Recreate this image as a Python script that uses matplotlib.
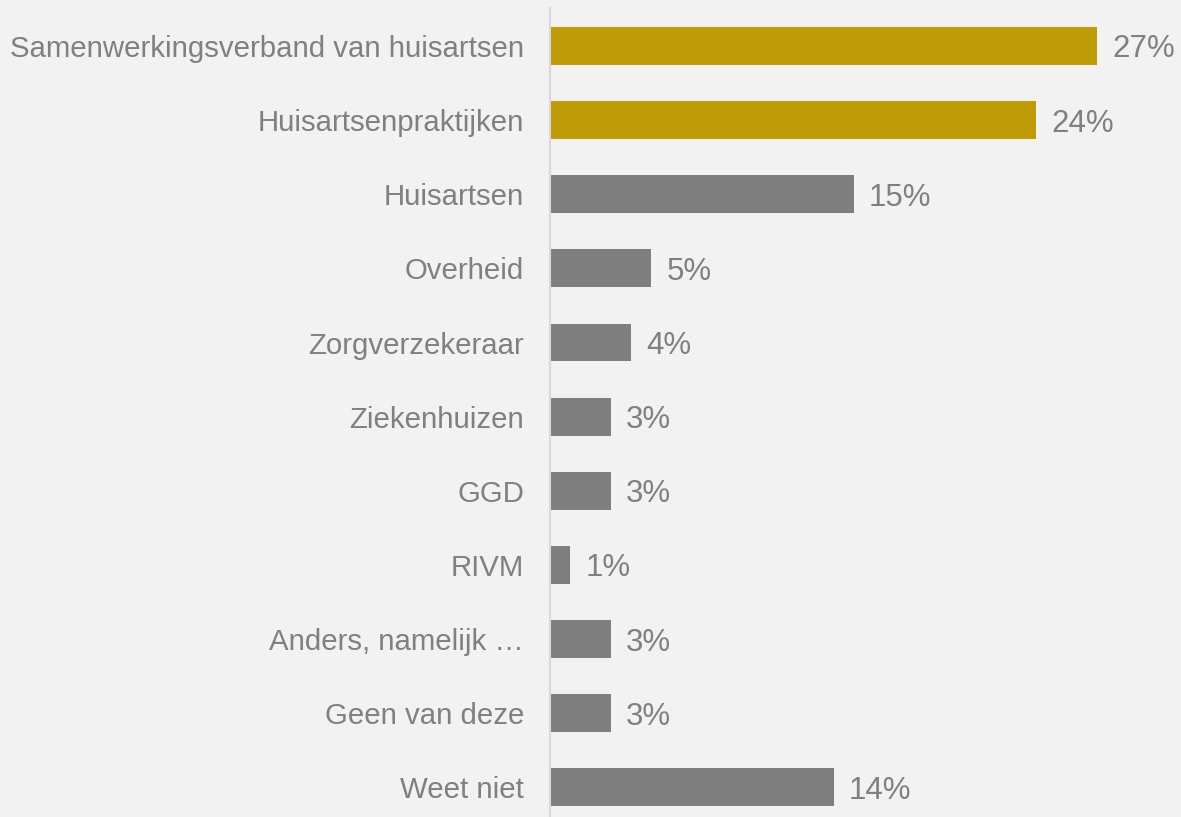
import matplotlib.pyplot as plt

categorieen = ['Samenwerkingsverband van huisartsen', 'Huisartsenpraktijken', 'Huisartsen',
               'Overheid', 'Zorgverzekeraar', 'Ziekenhuizen', 'GGD', 'RIVM',
               'Anders, namelijk \u2026', 'Geen van deze', 'Weet niet']
percentages = [27, 24, 15, 5, 4, 3, 3, 1, 3, 3, 14]
uitgelicht = [True, True, False, False, False, False, False, False, False, False, False]

achtergrond = '#f2f2f2'
goud = '#bf9b07'
grijs = '#7f7f7f'
tekst = '#808080'

plt.rcParams['font.family'] = ['Liberation Sans', 'DejaVu Sans']

fig = plt.figure(figsize=(11.81, 8.17), dpi=100, facecolor=achtergrond)
ax = fig.add_axes([550 / 1181, 0, 1 - 550 / 1181, 1 - 8 / 817])
ax.set_facecolor(achtergrond)

y = list(range(len(categorieen)))
kleuren = [goud if u else grijs for u in uitgelicht]
ax.barh(y, percentages, height=0.51, color=kleuren)

# percentage naast elke balk
for yi, p in zip(y, percentages):
    ax.text(p + 0.75, yi, f'{p}%', va='center_baseline', ha='left',
            fontsize=22.5, color=tekst)

ax.set_yticks(y)
ax.set_yticklabels(categorieen, fontsize=21.2, color=tekst)
ax.tick_params(axis='y', length=0, pad=18.7)
ax.set_xticks([])
ax.set_xlim(0, 31.15)
ax.set_ylim(10.4, -0.512)

for s in ['top', 'right', 'bottom']:
    ax.spines[s].set_visible(False)
ax.spines['left'].set_color('#d9d9d9')
ax.spines['left'].set_linewidth(1.5)

fig.savefig('out.png', dpi=100, facecolor=achtergrond)
